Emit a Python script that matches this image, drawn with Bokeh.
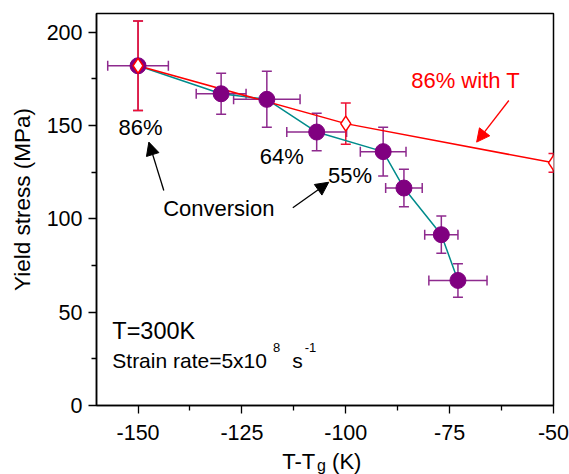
from bokeh.plotting import figure
from bokeh.models import (Range1d, FixedTicker, ColumnDataSource, Whisker, TeeHead,
                          Label, Arrow, NormalHead)
from bokeh.layouts import row, column
from bokeh.core.properties import value
from bokeh.embed import file_html
from bokeh.resources import INLINE

# ---- data ----
conv_x = [-150, -130, -119, -107, -91, -86, -77, -73]
conv_y = [182, 167, 164, 146.5, 136, 116.5, 91.5, 67]
conv_xerr = [7.3, 6.0, 8.0, 7.2, 5.5, 4.4, 4.0, 7.0]
conv_yerr = [24, 11, 15, 10, 13, 10, 10, 9]

temp_x = [-150, -100, -50]
temp_y = [182, 151, 130]
temp_yerr = [24, 11, 5]

x_ticks = [-150, -125, -100, -75, -50]
x_tick_labels = ["-150", "-125", "-100", "-75", "-50"]
x_minor = [-137.5, -112.5, -87.5, -62.5]
y_ticks = [0, 50, 100, 150, 200]
y_tick_labels = ["0", "50", "100", "150", "200"]
y_minor = [25, 75, 125, 175]

FONT = "Liberation Sans"
PURPLE = "#800080"
PURPLE_ERR = "#8E2A8E"
TEAL = "#008B8B"
RED = "#FF0000"
RED_ERR = "#EE1133"

LEFT_W = 40
STRIP_H = 30
W, H = 569, 474
PX_PER_Y = 392 / 210.0   # frame pixels per y unit
BASE_FIX = 0.32          # baseline correction (em) for svg text rendering

xr = Range1d(-160, -50)
p = figure(width=W - LEFT_W, height=H - STRIP_H,
           min_border_left=96 - LEFT_W, min_border_right=16,
           min_border_top=13, min_border_bottom=H - STRIP_H - 405,
           x_range=xr, y_range=Range1d(0, 210),
           output_backend="svg", toolbar_location=None,
           background_fill_color="white", border_fill_color="white")
p.grid.visible = False
p.outline_line_color = "black"
p.outline_line_width = 1.5

p.xaxis.ticker = FixedTicker(ticks=x_ticks, minor_ticks=x_minor)
p.yaxis.ticker = FixedTicker(ticks=y_ticks, minor_ticks=y_minor)
p.xaxis.major_label_overrides = dict(zip(x_ticks, x_tick_labels))
p.yaxis.major_label_overrides = dict(zip(y_ticks, y_tick_labels))
for ax in (p.xaxis[0], p.yaxis[0]):
    ax.axis_line_width = 1.5
    ax.axis_line_color = "black"
    ax.major_tick_in = 0
    ax.major_tick_out = 8
    ax.minor_tick_in = 0
    ax.minor_tick_out = 5
    ax.major_tick_line_width = 1.3
    ax.minor_tick_line_width = 1.3
    ax.major_label_text_font = FONT
    ax.major_label_text_font_size = "21.5px"
    ax.major_label_text_color = "black"
p.xaxis.major_label_standoff = 11
p.yaxis.major_label_standoff = 6

# source tables
cs = ColumnDataSource(data=dict(
    x=conv_x, y=conv_y,
    xl=[a - b for a, b in zip(conv_x, conv_xerr)], xu=[a + b for a, b in zip(conv_x, conv_xerr)],
    yl=[a - b for a, b in zip(conv_y, conv_yerr)], yu=[a + b for a, b in zip(conv_y, conv_yerr)]))
ts = ColumnDataSource(data=dict(
    x=temp_x, y=temp_y,
    yl=[a - b for a, b in zip(temp_y, temp_yerr)], yu=[a + b for a, b in zip(temp_y, temp_yerr)]))

# lines
p.line("x", "y", source=cs, line_color=TEAL, line_width=1.5)
p.line("x", "y", source=ts, line_color=RED, line_width=1.5)

# purple error bars
def tee(c):
    return TeeHead(size=10, line_color=c, line_width=1.5)

p.add_layout(Whisker(source=cs, base="y", lower="xl", upper="xu", dimension="width",
                     line_color=PURPLE_ERR, line_width=1.5,
                     upper_head=tee(PURPLE_ERR), lower_head=tee(PURPLE_ERR)))
p.add_layout(Whisker(source=cs, base="x", lower="yl", upper="yu", dimension="height",
                     line_color=PURPLE_ERR, line_width=1.5,
                     upper_head=tee(PURPLE_ERR), lower_head=tee(PURPLE_ERR)))
p.scatter("x", "y", source=cs, marker="circle", size=16, fill_color=PURPLE, line_color=PURPLE)

# red error bars + diamonds
p.add_layout(Whisker(source=ts, base="x", lower="yl", upper="yu", dimension="height",
                     line_color=RED_ERR, line_width=1.5,
                     upper_head=tee(RED_ERR), lower_head=tee(RED_ERR)))
p.scatter("x", "y", source=ts, marker="diamond", size=15, fill_color="white",
          line_color=RED, line_width=1.5)

# annotation texts (x, y = left/centre and baseline in data units)
def lab(x, y, text, size=22, color="black", align="left"):
    y_fix = y + BASE_FIX * size / PX_PER_Y
    p.add_layout(Label(x=x, y=y_fix, text=text, text_font=FONT, text_font_size=f"{size}px",
                       text_color=color, text_align=align, text_baseline="alphabetic"))

lab(-149.4, 145.2, "86%", align="center")
lab(-120.7, 129.5, "64%")
lab(-104.3, 119.6, "55%")
lab(-143.95, 101.8, "Conversion")
lab(-84.25, 170.2, "86% with T", color=RED)
lab(-156.2, 35.7, "T=300K", size=23.5)
lab(-156.2, 20.5, "Strain rate=5x10", size=21)
lab(-117.5, 28.7, "8", size=13)
lab(-112.9, 20.5, "s", size=21)
lab(-109.9, 28.7, "-1", size=13)

# arrows
def head(c):
    return NormalHead(size=13, fill_color=c, line_color=c, line_width=1)

p.add_layout(Arrow(x_start=-143.8, y_start=115.2, x_end=-147.4, y_end=141.1,
                   line_color="black", line_width=1.3, end=head("black")))
p.add_layout(Arrow(x_start=-112.75, y_start=105.9, x_end=-104.1, y_end=119.6,
                   line_color="black", line_width=1.3, end=head("black")))
p.add_layout(Arrow(x_start=-60.75, y_start=163.4, x_end=-68.5, y_end=141.1,
                   line_color=RED, line_width=1.3, end=head(RED)))

# ---- x-axis title strip (shares the x range) ----
bx = figure(width=W - LEFT_W, height=STRIP_H, x_range=xr, y_range=Range1d(0, STRIP_H),
            min_border_left=96 - LEFT_W, min_border_right=16, min_border_top=0,
            min_border_bottom=0, x_axis_type=None, y_axis_type=None,
            output_backend="svg", toolbar_location=None, outline_line_color=None)
bx.grid.visible = False

def btxt(x, y, text, size):
    bx.text(x=[x], y=[y + BASE_FIX * size], text=[text], text_font=value(FONT),
            text_font_size=f"{size}px", text_color="black",
            text_baseline="alphabetic", text_align="left")

btxt(-115.3, 6, "T-T", 22)
btxt(-106.9, 4, "g", 16)
btxt(-103.3, 6, "(K)", 22)

# ---- y-axis title strip ----
ly = figure(width=LEFT_W, height=H, x_range=Range1d(0, LEFT_W), y_range=Range1d(0, H),
            min_border_left=0, min_border_right=0, min_border_top=0, min_border_bottom=0,
            x_axis_type=None, y_axis_type=None,
            output_backend="svg", toolbar_location=None, outline_line_color=None)
ly.grid.visible = False
ly.text(x=[29.5 - BASE_FIX * 22.5], y=[H - 199], text=["Yield stress (MPa)"],
        text_font=value(FONT), text_font_size="22.5px", text_color="black",
        text_baseline="alphabetic", text_align="center", angle=1.5707963)

layout = row(ly, column(p, bx))
open("out.html", "w").write(file_html(layout, INLINE))
